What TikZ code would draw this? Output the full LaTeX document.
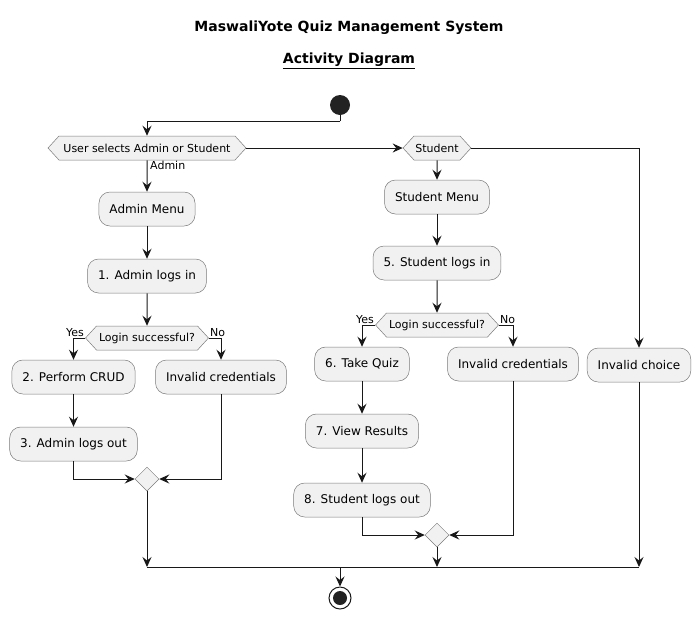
\documentclass[tikz,border=0pt]{standalone}
\usepackage{fontspec}
\setmainfont{DejaVu Sans}
\usetikzlibrary{arrows.meta}
\usetikzlibrary{shapes.symbols,shapes.geometric}
\definecolor{boxfill}{HTML}{F1F1F1}
\definecolor{ink}{HTML}{181818}
\definecolor{rim}{HTML}{7A7A7A}
\definecolor{dot}{HTML}{222222}

\begin{document}
\begin{tikzpicture}[x=1pt,y=-1pt,
  act/.style={draw=rim, fill=boxfill, rounded corners=11pt, line width=0.5pt,
    minimum height=34pt, inner xsep=10.5pt, font=\fontsize{12}{14}\selectfont},
  dec/.style={draw=rim, fill=boxfill, line width=0.5pt, shape=signal,
    signal to=west and east, signal pointer angle=95, minimum height=24pt,
    inner xsep=1pt, inner ysep=0pt, font=\fontsize{11}{13}\selectfont},
  merge/.style={draw=rim, fill=boxfill, line width=0.5pt, diamond,
    minimum size=24pt, inner sep=0pt},
  lbl/.style={font=\fontsize{11}{13}\selectfont, inner sep=1pt},
  arr/.style={ink, line width=1pt, -{Stealth[length=10pt,width=9pt,inset=3.5pt]}},
  flow/.style={ink, line width=1pt}]
\useasboundingbox (0,0) rectangle (700,619);

\path (349,28) node[font=\fontsize{14}{16}\selectfont\bfseries] (title) {MaswaliYote Quiz Management System};
\path (349,61) node[font=\fontsize{14}{16}\selectfont\bfseries] (subtitle) {\underline{Activity Diagram}};

\path (340,105) node[circle, fill=dot, minimum size=20pt, inner sep=0pt] (start) {};
\path (147,148) node[dec, minimum width=198pt] (dec1) {User selects Admin or Student};
\path (437,148) node[dec, minimum width=68pt] (sdec) {Student};

% admin side
\path (147,209) node[act] (amenu) {Admin Menu};
\path (147,276) node[act] (alogin) {1. Admin logs in};
\path (147,338) node[dec, minimum width=123pt] (adec) {Login successful?};
\path (73.5,377) node[act] (crud) {2. Perform CRUD};
\path (221,377) node[act] (ainv) {Invalid credentials};
\path (73.5,444) node[act] (aout) {3. Admin logs out};
\path (147,479) node[merge] (amerge) {};

% student side
\path (437,197) node[act] (smenu) {Student Menu};
\path (437,263) node[act] (slogin) {5. Student logs in};
\path (437,325) node[dec, minimum width=123pt] (sdec2) {Login successful?};
\path (362,364) node[act] (quiz) {6. Take Quiz};
\path (513,364) node[act] (sinv) {Invalid credentials};
\path (362,431) node[act] (results) {7. View Results};
\path (362,500) node[act] (sout) {8. Student logs out};
\path (437,535) node[merge] (smerge) {};

\path (639,365) node[act] (ichoice) {Invalid choice};

\path (340,598) node[circle, draw=ink, fill=white, line width=1pt, minimum size=22pt, inner sep=0pt] (end) {};
\fill[dot] (end.center) circle (7pt);

\coordinate (b1) at (340,121);
\coordinate (m1) at (147,567);
\coordinate (m0) at (340,567);
\coordinate (m2) at (437,567);
\coordinate (m3) at (639,567);

\draw[flow] (start) -- (b1);
\draw[arr] (b1) -| (dec1);
\draw[arr] (dec1.east) -- (sdec.west);
\draw[arr] (dec1) -- (amenu);
\path (dec1.south) node[lbl, anchor=north west, xshift=2pt] (admin) {Admin};
\draw[arr] (sdec.east) -| (ichoice);
\draw[arr] (sdec) -- (smenu);

\draw[arr] (amenu) -- (alogin);
\draw[arr] (alogin) -- (adec);
\draw[arr] (adec.west) -| (crud);
\draw[arr] (adec.east) -| (ainv);
\path (adec.west) node[lbl, anchor=south east] (ayes) {Yes};
\path (adec.east) node[lbl, anchor=south west] (ano) {No};
\draw[arr] (crud) -- (aout);
\draw[arr] (aout) |- (amerge.west);
\draw[arr] (ainv) |- (amerge.east);
\draw[arr] (amerge) -- (m1);

\draw[arr] (smenu) -- (slogin);
\draw[arr] (slogin) -- (sdec2);
\draw[arr] (sdec2.west) -| (quiz);
\draw[arr] (sdec2.east) -| (sinv);
\path (sdec2.west) node[lbl, anchor=south east] (syes) {Yes};
\path (sdec2.east) node[lbl, anchor=south west] (sno) {No};
\draw[arr] (quiz) -- (results);
\draw[arr] (results) -- (sout);
\draw[arr] (sout) |- (smerge.west);
\draw[arr] (sinv) |- (smerge.east);
\draw[arr] (smerge) -- (m2);

\draw[arr] (ichoice) -- (m3);
\draw[flow] (m1) -- (m3);
\draw[arr] (m0) -- (end);

\end{tikzpicture}
\end{document}
